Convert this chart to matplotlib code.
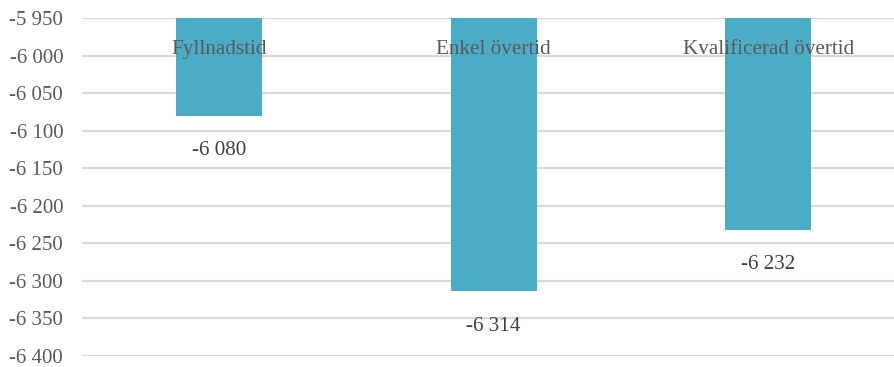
import matplotlib.pyplot as plt
from matplotlib.ticker import FuncFormatter

categories = ['Fyllnadstid', 'Enkel övertid', 'Kvalificerad övertid']
values = [-6080, -6314, -6232]
base = -5950

def fmt(v, pos=None):
    s = f'{abs(int(round(v))):,}'.replace(',', ' ')
    return ('-' if v < 0 else '') + s

plt.rcParams['font.family'] = ['Liberation Serif', 'DejaVu Serif']

fig = plt.figure(figsize=(8.95, 3.67), dpi=100)
ax = fig.add_axes([82/895, 1 - 356/367, (905.5 - 82)/895, (356 - 18)/367])

x = list(range(len(categories)))
heights = [v - base for v in values]
ax.bar(x, heights, bottom=base, width=0.313, color='#4BACC6', zorder=2)

ax.set_xlim(-0.5, 2.5)
ax.set_ylim(-6400, -5950)
ax.set_yticks(range(-6400, -5949, 50))
ax.yaxis.set_major_formatter(FuncFormatter(fmt))
ax.tick_params(axis='y', length=0, pad=13.5, labelsize=15, labelcolor='#595959')
ax.set_xticks([])
ax.grid(axis='y', color='#D9D9D9', linewidth=1.6, zorder=0)
for s in ax.spines.values():
    s.set_visible(False)

for i, (c, v) in enumerate(zip(categories, values)):
    # category name near the top of each bar
    ax.annotate(c, (i, base), xytext=(0, -23), textcoords='offset points',
                ha='center', va='center', fontsize=15.2, color='#595959', zorder=3)
    # value under the bar
    ax.annotate(fmt(v), (i, v), xytext=(0, -25), textcoords='offset points',
                ha='center', va='center', fontsize=15.2, color='#404040', zorder=3)

fig.savefig('out.png', dpi=100)
